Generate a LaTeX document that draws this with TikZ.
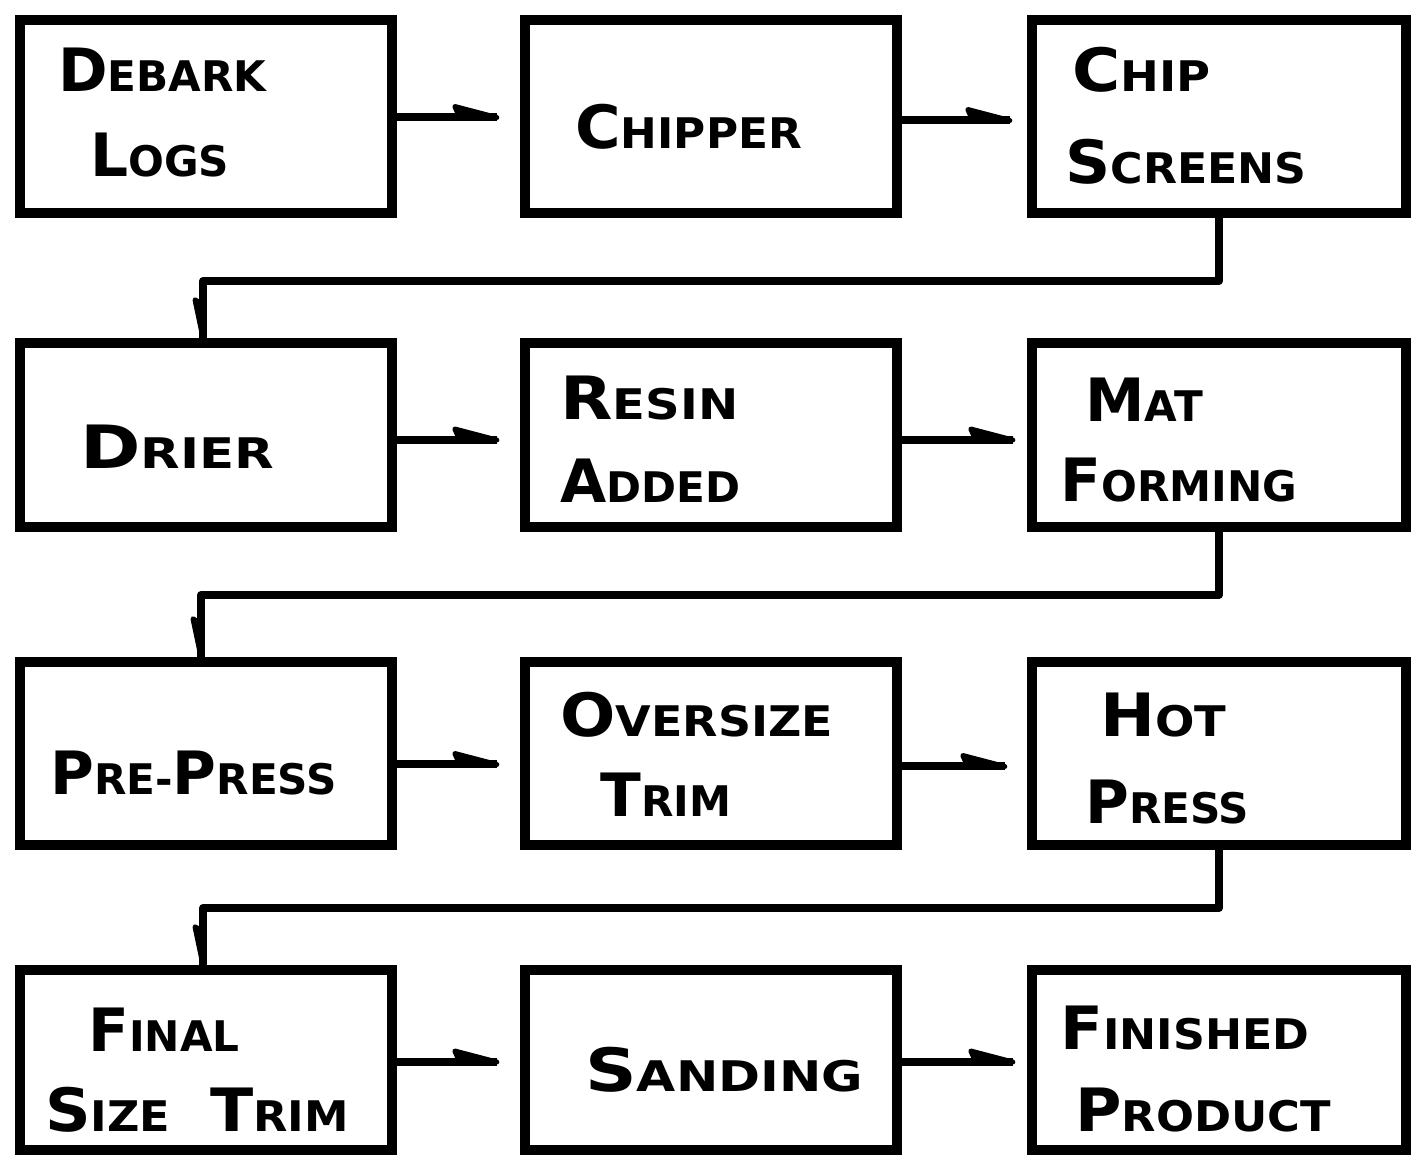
\documentclass[tikz,border=0pt]{standalone}
\usepackage{fontspec}
\setmainfont{DejaVu Sans}
\usetikzlibrary{arrows.meta}
\newcommand\Cp[2]{{\fontsize{34}{34}\selectfont #1}{\fontsize{24}{24}\selectfont #2}}
\tikzset{
  box/.style={draw, line width=0.21cm, rectangle, inner sep=0pt},
  cA/.style={minimum width=7.44cm}, cC/.style={minimum width=7.48cm},
  rA/.style={minimum height=3.86cm}, rB/.style={minimum height=3.68cm},
  rC/.style={minimum height=3.66cm}, rD/.style={minimum height=3.6cm},
  flow/.style={line width=0.16cm},
  barb/.style={line width=0.1cm, line join=round, fill=black},
  lab/.style={anchor=west, inner sep=0pt, font=\bfseries}
}
\begin{document}
\begin{tikzpicture}[x=0.02cm, y=-0.02cm]
\useasboundingbox (0,0) rectangle (1411,1155);
% boxes
\node[box,cA,rA] (b1) at (206,116.5) {};
\node[box,cA,rA] (b2) at (711,116.5) {};
\node[box,cC,rA] (b3) at (1219,116.5) {};
\node[box,cA,rB] (b4) at (206,435) {};
\node[box,cA,rB] (b5) at (711,435) {};
\node[box,cC,rB] (b6) at (1219,435) {};
\node[box,cA,rC] (b7) at (206,753.5) {};
\node[box,cA,rC] (b8) at (711,753.5) {};
\node[box,cC,rC] (b9) at (1219,753.5) {};
\node[box,cA,rD] (b10) at (206,1060) {};
\node[box,cA,rD] (b11) at (711,1060) {};
\node[box,cC,rD] (b12) at (1219,1060) {};
% labels
\node[lab] (t1a) at (58,70) {\Cp{D}{EBARK}};
\node[lab] (t1b) at (90,155) {\Cp{L}{OGS}};
\node[lab] (t2) at (575,127) {\scalebox{1.04}[1]{\Cp{C}{HIPPER}}};
\node[lab] (t3a) at (1072,70) {\scalebox{1.1}[1]{\Cp{C}{HIP}}};
\node[lab] (t3b) at (1065,162) {\scalebox{1.05}[1]{\Cp{S}{CREENS}}};
\node[lab] (t4) at (80,447) {\scalebox{1.22}[1]{\Cp{D}{RIER}}};
\node[lab] (t5a) at (560,398) {\scalebox{1.14}[1]{\Cp{R}{ESIN}}};
\node[lab] (t5b) at (560,481) {\Cp{A}{DDED}};
\node[lab] (t6a) at (1085,400) {\Cp{M}{AT}};
\node[lab] (t6b) at (1060,480) {\Cp{F}{ORMING}};
\node[lab] (t7) at (50,773) {\Cp{P}{RE-}\Cp{P}{RESS}};
\node[lab] (t8a) at (560,715) {\scalebox{1.09}[1]{\Cp{O}{VERSIZE}}};
\node[lab] (t8b) at (600,795) {\Cp{T}{RIM}};
\node[lab] (t9a) at (1100,715) {\scalebox{1.1}[1]{\Cp{H}{OT}}};
\node[lab] (t9b) at (1085,802) {\Cp{P}{RESS}};
\node[lab] (t10a) at (88,1030) {\Cp{F}{INAL}};
\node[lab] (t10b) at (45,1110) {\scalebox{1.06}[1]{\Cp{S}{IZE}\hspace{0.75cm}\Cp{T}{RIM}}};
\node[lab] (t11) at (585,1070) {\scalebox{1.2}[1]{\Cp{S}{ANDING}}};
\node[lab] (t12a) at (1060,1028) {\scalebox{1.05}[1]{\Cp{F}{INISHED}}};
\node[lab] (t12b) at (1075,1110) {\scalebox{1.06}[1]{\Cp{P}{RODUCT}}};
% horizontal connector ends
\coordinate (e12) at ([yshift=-0.02cm, xshift=-0.46cm]b2.west);
\coordinate (e23) at ([yshift=-0.08cm, xshift=-0.34cm]b3.west);
\coordinate (e45) at ([yshift=-0.1cm, xshift=-0.46cm]b5.west);
\coordinate (e56) at ([yshift=-0.1cm, xshift=-0.28cm]b6.west);
\coordinate (e78) at ([yshift=-0.22cm, xshift=-0.46cm]b8.west);
\coordinate (e89) at ([yshift=-0.26cm, xshift=-0.44cm]b9.west);
\coordinate (e1011) at ([yshift=-0.04cm, xshift=-0.46cm]b11.west);
\coordinate (e1112) at ([yshift=-0.04cm, xshift=-0.28cm]b12.west);
\draw[flow] ([yshift=-0.02cm]b1.east) -- (e12);
\draw[flow] ([yshift=-0.08cm]b2.east) -- (e23);
\draw[flow] ([yshift=-0.1cm]b4.east) -- (e45);
\draw[flow] ([yshift=-0.1cm]b5.east) -- (e56);
\draw[flow] ([yshift=-0.22cm]b7.east) -- (e78);
\draw[flow] ([yshift=-0.26cm]b8.east) -- (e89);
\draw[flow] ([yshift=-0.04cm]b10.east) -- (e1011);
\draw[flow] ([yshift=-0.04cm]b11.east) -- (e1112);
\foreach \e in {e12,e23,e45,e56,e78,e89,e1011,e1112}
  \filldraw[barb] (\e) -- ++(-42,-11) -- ++(5,11) -- cycle;
% row-to-row connectors
\coordinate (m1) at (0,281);
\coordinate (m2) at (0,595);
\coordinate (m3) at (0,908);
\coordinate (v4) at ([xshift=-0.06cm]b4.north);
\coordinate (v7) at ([xshift=-0.1cm]b7.north);
\coordinate (v10) at ([xshift=-0.06cm]b10.north);
\draw[flow, line join=round] (b3.south) -- (b3.south |- m1) -- (v4 |- m1) -- (v4);
\draw[flow, line join=round] (b6.south) -- (b6.south |- m2) -- (v7 |- m2) -- (v7);
\draw[flow, line join=round] (b9.south) -- (b9.south |- m3) -- (v10 |- m3) -- (v10);
\foreach \v in {v4,v7,v10}
  \filldraw[barb] (\v) -- ++(-8,-38) -- ++(8,5) -- cycle;
\end{tikzpicture}
\end{document}
